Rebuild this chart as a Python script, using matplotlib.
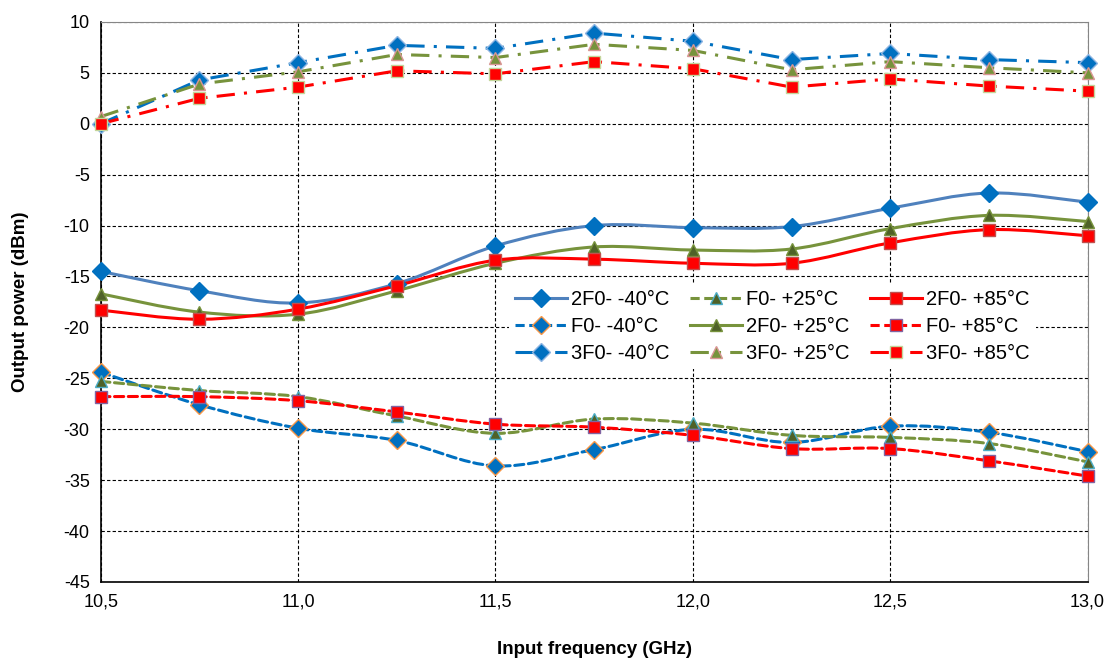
import matplotlib
matplotlib.use("Agg")
import matplotlib.pyplot as plt
import numpy as np
from matplotlib.lines import Line2D
from matplotlib.patches import PathPatch
from matplotlib.path import Path
from matplotlib.ticker import FuncFormatter, MultipleLocator

plt.rcParams["font.family"] = ["Liberation Sans", "DejaVu Sans"]

freq = [10.5, 10.75, 11.0, 11.25, 11.5, 11.75, 12.0, 12.25, 12.5, 12.75, 13.0]

h2_m40 = [-14.5, -16.4, -17.6, -15.7, -12.0, -10.0, -10.2, -10.1, -8.3, -6.8, -7.7]
f0_m40 = [-24.4, -27.6, -29.9, -31.1, -33.6, -32.0, -30.0, -31.3, -29.7, -30.3, -32.2]
h3_m40 = [0.0, 4.3, 6.0, 7.7, 7.4, 8.9, 8.1, 6.3, 6.9, 6.3, 6.0]

f0_p25 = [-25.3, -26.2, -26.8, -28.7, -30.4, -29.0, -29.4, -30.6, -30.8, -31.4, -33.2]
h2_p25 = [-16.7, -18.5, -18.7, -16.4, -13.7, -12.1, -12.4, -12.3, -10.3, -9.0, -9.6]
h3_p25 = [0.7, 3.9, 5.1, 6.8, 6.5, 7.8, 7.2, 5.3, 6.1, 5.5, 5.0]

h2_p85 = [-18.3, -19.2, -18.2, -15.9, -13.4, -13.3, -13.7, -13.7, -11.7, -10.4, -11.0]
f0_p85 = [-26.8, -26.8, -27.2, -28.3, -29.5, -29.8, -30.6, -31.9, -31.9, -33.1, -34.6]
h3_p85 = [0.0, 2.5, 3.6, 5.2, 4.9, 6.1, 5.4, 3.6, 4.4, 3.7, 3.2]

labels = ["2F0- -40°C", "F0- -40°C", "3F0- -40°C",
          "F0- +25°C", "2F0- +25°C", "3F0- +25°C",
          "2F0- +85°C", "F0- +85°C", "3F0- +85°C"]


def smooth_path(x, y, tension=1 / 6):
    # Excel-like smoothed line: cubic Bezier through every point
    x = np.asarray(x, float)
    y = np.asarray(y, float)
    n = len(x)
    verts = [(x[0], y[0])]
    codes = [Path.MOVETO]
    for i in range(n - 1):
        i0 = max(i - 1, 0)
        i3 = min(i + 2, n - 1)
        c1 = (x[i] + (x[i + 1] - x[i0]) * tension, y[i] + (y[i + 1] - y[i0]) * tension)
        c2 = (x[i + 1] - (x[i3] - x[i]) * tension, y[i + 1] - (y[i3] - y[i]) * tension)
        verts += [c1, c2, (x[i + 1], y[i + 1])]
        codes += [Path.CURVE4] * 3
    return Path(verts, codes)


dash = (0, (3, 1.5))
dashdot = (0, (6, 3, 1, 3))
series = [
    # values, line color, linestyle, smooth, marker, face, edge
    (h2_m40, "#4F81BD", "-", True, "D", "#0070C0", "#0070C0"),
    (f0_m40, "#0070C0", dash, True, "D", "#0070C0", "#F79646"),
    (h3_m40, "#0070C0", dashdot, False, "D", "#0070C0", "#8DB4E2"),
    (f0_p25, "#77933C", dash, True, "^", "#4F6228", "#4BACC6"),
    (h2_p25, "#77933C", "-", True, "^", "#4F6228", "#77933C"),
    (h3_p25, "#77933C", dashdot, False, "^", "#77933C", "#D99694"),
    (h2_p85, "#FF0000", "-", True, "s", "#FF0000", "#C0504D"),
    (f0_p85, "#FF0000", dash, True, "s", "#FF0000", "#8064A2"),
    (h3_p85, "#FF0000", dashdot, False, "s", "#FF0000", "#C3D69B"),
]

fig = plt.figure(figsize=(11.2, 6.64), dpi=100)
ax = fig.add_axes([0.090, 0.1235, 0.881, 0.8435])

handles = []
for (vals, lc, ls, smooth, mk, fc, ec), lab in zip(series, labels):
    if smooth:
        patch = PathPatch(smooth_path(freq, vals), fill=False, edgecolor=lc,
                          linewidth=2.2, linestyle=ls, capstyle="round", zorder=3)
        ax.add_patch(patch)
    else:
        ax.plot(freq, vals, color=lc, linewidth=2.2, linestyle=ls, zorder=3)
    ax.plot(freq, vals, linestyle="none", marker=mk, markersize=9,
            markerfacecolor=fc, markeredgecolor=ec, markeredgewidth=1,
            zorder=4, clip_on=False)
    handles.append(Line2D([], [], color=lc, linewidth=2.2, linestyle=ls, marker=mk,
                          markersize=9, markerfacecolor=fc, markeredgecolor=ec))

ax.set_xlim(10.5, 13.0)
ax.set_ylim(-45, 10)
ax.xaxis.set_major_locator(MultipleLocator(0.5))
ax.yaxis.set_major_locator(MultipleLocator(5))
ax.xaxis.set_major_formatter(FuncFormatter(lambda v, p: f"{v:.1f}".replace(".", ",")))
ax.yaxis.set_major_formatter(FuncFormatter(lambda v, p: f"{v:.0f}"))
ax.grid(True, color="black", linestyle=(0, (3, 2)), linewidth=0.8)
ax.set_axisbelow(True)
ax.tick_params(labelsize=13, length=0, pad=8)

for side in ["top", "right"]:
    ax.spines[side].set_color("#868686")
for side in ["left", "bottom"]:
    ax.spines[side].set_color("black")
    ax.spines[side].set_linewidth(1.2)

ax.set_xlabel("Input frequency (GHz)", fontsize=13.5, fontweight="bold", labelpad=22)
ax.set_ylabel("Output power (dBm)", fontsize=13.5, fontweight="bold", labelpad=25)

leg = ax.legend(handles, labels, ncol=3, loc="upper left", bbox_to_anchor=(0.403, 0.55),
                frameon=True, fontsize=14.5, handlelength=2.6, handletextpad=0.2,
                columnspacing=1.0, labelspacing=0.4, borderpad=0.3, fancybox=False)
leg.get_frame().set_facecolor("white")
leg.get_frame().set_edgecolor("none")
leg.get_frame().set_alpha(1)
leg.set_zorder(5)

fig.savefig("out.png", dpi=100)
